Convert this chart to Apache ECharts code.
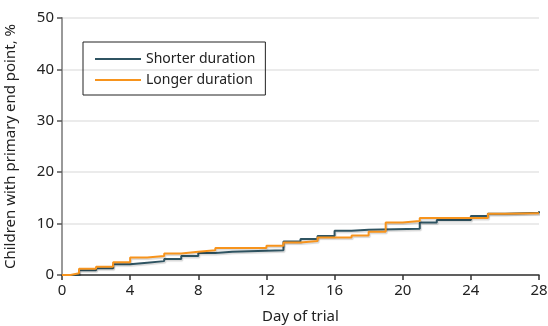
<!DOCTYPE html>
<html>
<head>
<meta charset="utf-8">
<script src="https://cdn.jsdelivr.net/npm/echarts@6/dist/echarts.min.js"></script>
<style>html,body{margin:0;padding:0;background:#fff;}#c{width:548px;height:326px;}</style>
</head>
<body>
<div id="c"></div>
<script>
var xTicks = [0, 4, 8, 12, 16, 20, 24, 28];
var yTicks = [0, 10, 20, 30, 40, 50];
var seriesNames = ['Shorter duration', 'Longer duration'];
var shorterDays = [0, 1, 2, 3, 4, 5, 6, 7, 8, 9, 10, 13, 14, 15, 16, 17, 18, 21, 22, 24, 25, 26, 28];
var shorterVals = [0, 0.9, 1.3, 2.1, 2.4, 2.7, 3.1, 3.7, 4.3, 4.5, 4.8, 6.5, 7.0, 7.6, 8.6, 8.8, 9.0, 10.2, 10.7, 11.5, 11.9, 12.1, 12.4];
var longerDays = [0, 0.5, 1, 2, 3, 4, 5, 6, 7, 8, 9, 12, 13, 14, 15, 17, 18, 19, 20, 21, 25, 26, 28];
var longerVals = [0, 0.35, 1.2, 1.6, 2.5, 3.4, 3.7, 4.2, 4.5, 4.8, 5.25, 5.7, 6.3, 6.6, 7.3, 7.7, 8.4, 10.2, 10.5, 11.1, 11.9, 12.0, 12.1];

function pairs(d, v) { return d.map(function (x, i) { return [x, v[i]]; }); }

var font = 'Noto Sans';
var chart = echarts.init(document.getElementById('c'), null, { renderer: 'canvas' });
var shadow = { shadowColor: 'rgba(0,0,0,0.16)', shadowBlur: 1, shadowOffsetX: 1, shadowOffsetY: 1.5 };
chart.setOption({
  animation: false,
  grid: { left: 62, right: 9, top: 18, bottom: 51, outerBoundsMode: 'none', containLabel: false },
  legend: {
    orient: 'vertical', left: 83, top: 42,
    data: seriesNames,
    icon: 'rect', itemWidth: 46, itemHeight: 2, itemGap: 5,
    padding: [9, 10, 7, 12],
    borderColor: '#222', borderWidth: 1,
    textStyle: { fontFamily: font, fontSize: 14, color: '#222', lineHeight: 16 }
  },
  xAxis: {
    type: 'value', min: 0, max: 28, interval: 4,
    name: 'Day of trial', nameLocation: 'middle', nameGap: 34,
    nameTextStyle: { fontFamily: font, fontSize: 15, color: '#222' },
    axisLine: { lineStyle: { color: '#333', width: 1.5 } },
    axisTick: { show: true, length: 5, lineStyle: { color: '#333', width: 1.5 } },
    axisLabel: { fontFamily: font, fontSize: 15, color: '#222', margin: 8,
      formatter: function (v) { return xTicks.indexOf(v) >= 0 ? String(v) : ''; } },
    splitLine: { show: false }
  },
  yAxis: {
    type: 'value', min: 0, max: 50, interval: 10,
    name: 'Children with primary end point, %', nameLocation: 'middle', nameGap: 44,
    nameTextStyle: { fontFamily: font, fontSize: 15, color: '#222' },
    axisLine: { show: true, lineStyle: { color: '#999', width: 2 } },
    axisTick: { show: true, length: 5, lineStyle: { color: '#555', width: 1.5 } },
    axisLabel: { fontFamily: font, fontSize: 15, color: '#222', margin: 8,
      formatter: function (v) { return yTicks.indexOf(v) >= 0 ? String(v) : ''; } },
    splitLine: { show: true, lineStyle: { color: '#e4e4e4', width: 1.5 } }
  },
  series: [
    { name: seriesNames[0], type: 'line', step: 'end', symbol: 'none',
      data: pairs(shorterDays, shorterVals),
      itemStyle: { color: '#2f5462' },
      lineStyle: Object.assign({ color: '#2f5462', width: 2 }, shadow) },
    { name: seriesNames[1], type: 'line', step: 'end', symbol: 'none',
      data: pairs(longerDays, longerVals),
      itemStyle: { color: '#f7941d' },
      lineStyle: Object.assign({ color: '#f7941d', width: 2 }, shadow) }
  ]
});
</script>
</body>
</html>
